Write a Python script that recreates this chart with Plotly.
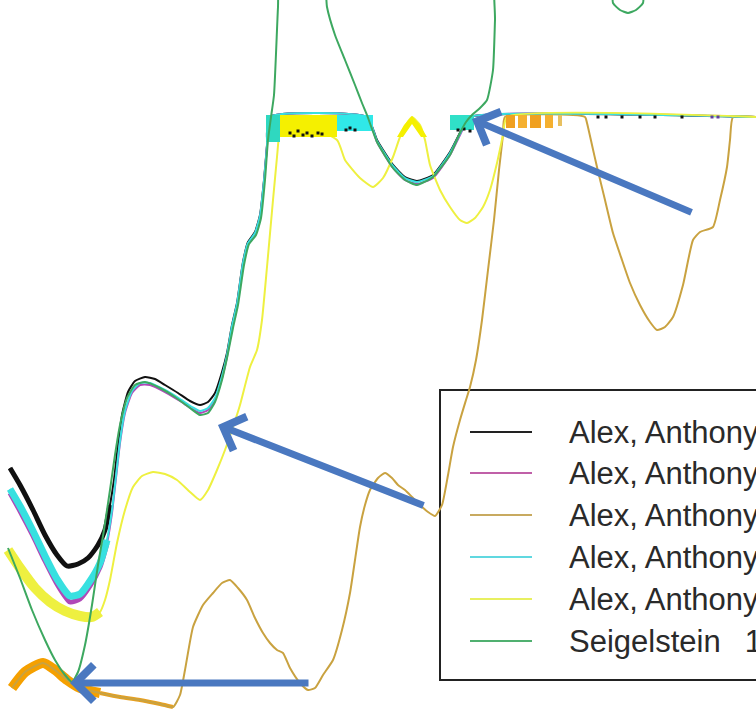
import plotly.graph_objects as go

# ---------------- data (x: channel, y: depth from top of view) -------------
CEIL = 117

black_x = [10, 20, 33, 45, 57, 67, 78, 88, 98, 105, 110, 114, 118, 122, 128, 135, 145, 155, 165, 178, 190, 200, 208, 215, 222, 227, 232, 237, 243, 248, 255, 260, 264, 267, 269, 367, 377, 393, 405, 417, 433, 450, 463, 470, 756]
black_y = [468, 485, 510, 535, 555, 566, 564, 558, 545, 530, 505, 480, 445, 415, 392, 381, 377, 379, 385, 393, 401, 405, 402, 393, 372, 353, 325, 303, 262, 242, 232, 215, 180, 145, 117, 117, 140, 165, 177, 181, 175, 152, 127, 117, 117]

magenta_x = [10, 20, 33, 45, 57, 70, 80, 90, 100, 107, 112, 116, 120, 125, 132, 140, 150, 165, 180, 192, 200, 208, 215, 222, 227, 232, 237, 243, 248, 255, 260, 264, 267, 269, 367, 377, 393, 405, 417, 433, 450, 463, 470, 756]
magenta_y = [493, 511, 536, 561, 584, 602, 599, 586, 567, 543, 513, 478, 443, 413, 393, 385, 385, 392, 401, 409, 413, 410, 400, 378, 357, 328, 306, 264, 244, 234, 217, 182, 146, 117, 117, 142, 168, 180, 184, 178, 155, 129, 117, 117]

tan_x = [12, 25, 43, 55, 67, 80, 100, 120, 140, 160, 173, 180, 185, 193, 203, 213, 222, 230, 238, 247, 255, 263, 270, 277, 283, 290, 300, 308, 315, 323, 333, 342, 350, 355, 360, 365, 370, 378, 385, 392, 398, 405, 412, 420, 428, 435, 442, 448, 453, 460, 466, 470, 476, 482, 488, 494, 499, 503, 505, 585, 587, 592, 597, 605, 613, 622, 630, 640, 650, 657, 665, 673, 683, 693, 700, 713, 720, 727, 730, 733, 756]
tan_y = [688, 672, 663, 670, 680, 688, 693, 697, 700, 704, 707, 695, 670, 627, 605, 593, 583, 580, 588, 600, 618, 633, 643, 650, 653, 668, 683, 690, 688, 675, 660, 630, 593, 560, 527, 505, 490, 478, 473, 478, 485, 490, 497, 505, 512, 516, 505, 475, 447, 420, 400, 387, 360, 320, 270, 220, 170, 135, 117, 117, 123, 145, 167, 200, 233, 260, 283, 305, 322, 330, 327, 317, 285, 240, 232, 227, 200, 167, 140, 117, 117]

cyan_x = [10, 20, 33, 45, 57, 70, 80, 90, 100, 107, 112, 116, 120, 125, 132, 140, 150, 165, 180, 192, 200, 208, 215, 222, 227, 232, 237, 243, 248, 255, 260, 264, 267, 269, 367, 377, 393, 405, 417, 433, 450, 463, 470, 756]
cyan_y = [489, 506, 531, 556, 579, 596, 594, 581, 563, 540, 510, 476, 441, 411, 391, 383, 383, 390, 399, 407, 411, 408, 398, 376, 355, 326, 304, 263, 243, 233, 216, 181, 146, 117, 117, 141, 166, 178, 182, 176, 153, 128, 117, 117]

yellow_x = [8, 20, 35, 50, 65, 80, 92, 100, 105, 110, 117, 125, 133, 142, 153, 165, 177, 190, 200, 208, 217, 225, 233, 240, 250, 257, 262, 267, 273, 277, 280, 282, 337, 345, 360, 373, 383, 393, 400, 407, 412, 420, 425, 430, 440, 450, 460, 467, 475, 483, 490, 497, 503, 507, 756]
yellow_y = [550, 568, 588, 602, 611, 616, 617, 612, 600, 580, 543, 510, 487, 476, 472, 474, 480, 492, 500, 490, 470, 450, 427, 405, 367, 350, 320, 267, 200, 157, 125, 117, 140, 160, 178, 187, 178, 157, 137, 123, 117, 125, 140, 165, 190, 207, 220, 223, 218, 207, 190, 163, 135, 117, 117]

green_x = [8, 20, 32, 45, 55, 65, 72, 78, 85, 92, 98, 104, 110, 115, 120, 127, 135, 145, 160, 175, 190, 200, 208, 215, 222, 227, 233, 238, 244, 249, 256, 261, 265, 268, 271, 274, 278, 281, 322, 327, 335, 345, 355, 362, 367, 377, 393, 405, 417, 433, 450, 460, 466, 472, 480, 487, 493, 495, 497, 610, 613, 620, 628, 636, 643, 646, 756]
green_y = [548, 578, 610, 640, 660, 675, 682, 672, 645, 605, 565, 530, 490, 455, 425, 398, 385, 382, 388, 397, 408, 415, 413, 402, 380, 358, 328, 305, 265, 244, 235, 218, 180, 140, 117, 95, 7, -40, -40, 7, 35, 60, 85, 103, 115, 142, 168, 180, 185, 177, 155, 133, 122, 115, 108, 100, 70, 20, -40, -40, 3, 10, 13, 10, 3, -40, -40]

# saturated (noisy) blocks along the ceiling
noise_x0 = [266, 280, 337, 450, 506, 518, 530, 545, 558]
noise_x1 = [280, 337, 373, 474, 515, 527, 541, 553, 562]
noise_y1 = [142, 137, 131, 130, 128, 128, 128, 128, 126]
noise_col = ["#2FD8C0", "#F5F000", "#30E8E8", "#30E0C8", "#F0A020", "#F5B030", "#F0A020", "#F5B030", "#E8C060"]
peak_x = [397, 404, 412, 420, 427, 421, 412, 403]
peak_y = [137, 125, 116, 125, 137, 137, 124, 137]

dots_x = [290, 294, 298, 303, 307, 312, 318, 322, 346, 350, 355, 458, 464, 470, 598, 606, 622, 640, 655, 682, 712, 718]
dots_y = [133, 136, 131, 135, 133, 136, 133, 134, 130, 128, 130, 130, 129, 131, 117, 117, 117, 117, 117, 117, 117, 117]
dots_c = ["#111"] * 20 + ["#6040A0", "#6040A0"]

names = ["Alex, Anthony 1", "Alex, Anthony 2", "Alex, Anthony 3",
         "Alex, Anthony 4", "Alex, Anthony 5", "Seigelstein \u20021981"]
colors = ["#111111", "#B048B8", "#C9A240", "#38E0E0", "#EEF040", "#3DA860"]
legend_colors = ["#222222", "#C060A8", "#C8AA60", "#60D8E0", "#E8F060", "#50B070"]
series = [(black_x, black_y), (magenta_x, magenta_y), (tan_x, tan_y),
          (cyan_x, cyan_y), (yellow_x, yellow_y), (green_x, green_y)]
thick_until = [112, 110, 100, 110, 100, 0]
thick_width = [5, 5, 10, 7, 10, 0]

# arrows: (head x, head y, tail x, tail y)
arrows = [(472, 119, 693, 213), (218, 425, 425, 506), (70, 683, 310, 683)]

fig = go.Figure()

for i, (sx, sy) in enumerate(series):
    if thick_width[i]:
        n = sum(1 for v in sx if v <= thick_until[i])
        col = "#F5A000" if i == 2 else colors[i]
        fig.add_trace(go.Scatter(x=sx[:n], y=sy[:n], mode="lines", showlegend=False,
                                 line=dict(color=col, width=thick_width[i], shape="spline", smoothing=0.6),
                                 hoverinfo="skip"))
        if i == 2:
            m = sum(1 for v in sx if v <= 175)
            fig.add_trace(go.Scatter(x=sx[n - 1:m], y=sy[n - 1:m], mode="lines", showlegend=False,
                                     line=dict(color="#E8A020", width=4, shape="spline", smoothing=0.6),
                                     hoverinfo="skip"))
    fig.add_trace(go.Scatter(x=sx, y=sy, mode="lines", name=names[i], showlegend=False,
                             line=dict(color=colors[i], width=2, shape="spline", smoothing=0.5)))
    if i == 4:
        for x0, x1, y1, c in zip(noise_x0, noise_x1, noise_y1, noise_col):
            fig.add_trace(go.Scatter(x=[x0, x1, x1, x0, x0], y=[CEIL - 2, CEIL - 2, y1, y1, CEIL - 2],
                                     mode="lines", fill="toself", fillcolor=c, line=dict(width=0),
                                     showlegend=False, hoverinfo="skip"))
        fig.add_trace(go.Scatter(x=peak_x, y=peak_y, mode="lines", fill="toself", fillcolor="#F5F000",
                                 line=dict(width=0), showlegend=False, hoverinfo="skip"))
        fig.add_trace(go.Scatter(x=dots_x, y=dots_y, mode="markers", showlegend=False,
                                 marker=dict(color=dots_c, size=3, symbol="square"), hoverinfo="skip"))

annotations = []
for hx, hy, tx, ty in arrows:
    annotations.append(dict(x=hx, y=hy, ax=tx, ay=ty, xref="x", yref="y", axref="x", ayref="y",
                            text="", showarrow=True, arrowhead=4, arrowsize=1, arrowwidth=7,
                            arrowcolor="#4A78C0", standoff=0, startstandoff=0))

shapes = [dict(type="rect", xref="x", yref="y", x0=440, x1=820, y0=390, y1=680,
               line=dict(color="#222222", width=2), fillcolor="white", layer="below")]
row_y = [432, 473, 515, 557, 599, 641]
for i, ry in enumerate(row_y):
    shapes.append(dict(type="line", xref="x", yref="y", x0=470, x1=532, y0=ry, y1=ry,
                       line=dict(color=legend_colors[i], width=2)))
    annotations.append(dict(x=567, y=ry, xref="x", yref="y", xanchor="left", yanchor="middle",
                            text=names[i], showarrow=False,
                            font=dict(family="Liberation Sans, Arial, sans-serif", size=31, color="#2A2A2A")))

fig.update_layout(
    width=756, height=719, margin=dict(l=0, r=0, t=0, b=0),
    paper_bgcolor="white", plot_bgcolor="white",
    xaxis=dict(range=[0, 756], visible=False, fixedrange=True),
    yaxis=dict(range=[719, 0], visible=False, fixedrange=True),
    shapes=shapes, annotations=annotations, showlegend=False,
)

fig.write_html("out.html")
